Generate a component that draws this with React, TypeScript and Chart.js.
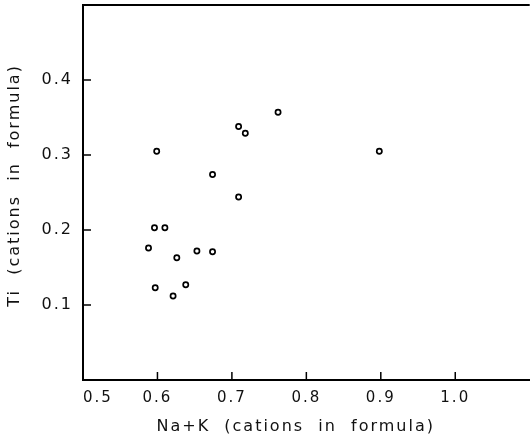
import React, { useEffect, useRef } from 'react';
import { Chart, registerables } from 'chart.js';

Chart.register(...registerables);

// Na+K (cations in formula)
const naK = [0.599, 0.762, 0.709, 0.718, 0.898, 0.674, 0.709, 0.596, 0.610, 0.588, 0.653, 0.674, 0.626, 0.597, 0.638, 0.621];
// Ti (cations in formula)
const ti = [0.305, 0.357, 0.338, 0.329, 0.305, 0.274, 0.244, 0.203, 0.203, 0.176, 0.172, 0.171, 0.163, 0.123, 0.127, 0.112];

const xTickLabels = ['0.5', '0.6', '0.7', '0.8', '0.9', '1.0'];
const yTickLabels = ['0.1', '0.2', '0.3', '0.4'];
const xTitle = 'Na+K  (cations  in  formula)';
const yTitle = 'Ti  (cations  in  formula)';

const FONT = 'DejaVu Sans';

const framePlugin = {
  id: 'frame',
  beforeDraw(chart: any) {
    (chart.ctx as any).letterSpacing = '2px';
  },
  afterDraw(chart: any) {
    const { ctx, chartArea, scales } = chart;
    ctx.save();
    ctx.strokeStyle = '#000';
    ctx.lineWidth = 2;
    ctx.beginPath();
    ctx.moveTo(chartArea.left - 1, chartArea.top);
    ctx.lineTo(chartArea.right, chartArea.top);
    ctx.stroke();
    ctx.lineWidth = 1.5;
    ctx.beginPath();
    xTickLabels.forEach((l) => {
      const x = scales.x.getPixelForValue(parseFloat(l));
      ctx.moveTo(x, chartArea.bottom);
      ctx.lineTo(x, chartArea.bottom - 8);
    });
    yTickLabels.forEach((l) => {
      const y = scales.y.getPixelForValue(parseFloat(l));
      ctx.moveTo(chartArea.left, y);
      ctx.lineTo(chartArea.left + 8, y);
    });
    ctx.stroke();
    ctx.restore();
  },
};

export default function App() {
  const ref = useRef<HTMLCanvasElement>(null);

  useEffect(() => {
    if (!ref.current) return;
    const chart = new Chart(ref.current, {
      type: 'scatter',
      data: {
        datasets: [
          {
            data: naK.map((x, i) => ({ x, y: ti[i] })),
            pointRadius: 2.6,
            pointBorderWidth: 1.7,
            borderColor: '#000',
            backgroundColor: '#fff',
            pointHoverRadius: 2.6,
          },
        ],
      },
      options: {
        responsive: true,
        maintainAspectRatio: false,
        animation: false,
        layout: { padding: { top: 5, left: 0, right: 0, bottom: 0 } },
        plugins: {
          legend: { display: false },
          tooltip: { enabled: false },
        },
        scales: {
          x: {
            type: 'linear',
            position: 'bottom',
            min: 0.5,
            max: 1.1,
            afterFit: (s: any) => {
              s.height = 60;
              s.paddingLeft = 0;
              s.paddingRight = 0;
            },
            grid: { display: false, drawTicks: false },
            border: { display: true, color: '#000', width: 2 },
            ticks: {
              stepSize: 0.1,
              autoSkip: false,
              maxRotation: 0,
              align: 'inner',
              padding: 9,
              color: '#111',
              font: { family: FONT, size: 15 },
              callback: (v: any) => {
                const s = Number(v).toFixed(1);
                return xTickLabels.includes(s) ? s : '';
              },
            },
            title: {
              display: true,
              text: xTitle + '   ',
              color: '#111',
              font: { family: FONT, size: 16 },
              padding: { top: 0, bottom: 4 },
            },
          },
          y: {
            type: 'linear',
            position: 'left',
            min: 0,
            max: 0.5,
            afterFit: (s: any) => {
              s.width = 83;
              s.paddingTop = 0;
              s.paddingBottom = 0;
            },
            grid: { display: false, drawTicks: false },
            border: { display: true, color: '#000', width: 2 },
            ticks: {
              stepSize: 0.1,
              autoSkip: false,
              padding: 10,
              color: '#111',
              font: { family: FONT, size: 16 },
              callback: (v: any) => {
                const s = Number(v).toFixed(1);
                return yTickLabels.includes(s) ? s : '';
              },
            },
            title: {
              display: true,
              text: '  ' + yTitle,
              color: '#111',
              font: { family: FONT, size: 16 },
              padding: { top: 5, bottom: 0 },
            },
          },
        },
      },
      plugins: [framePlugin],
    } as any);
    return () => chart.destroy();
  }, []);

  return (
    <div
      style={{
        position: 'absolute',
        left: 0,
        top: 0,
        width: 530,
        height: 440,
        overflow: 'hidden',
        background: '#fff',
      }}
    >
      <div style={{ position: 'relative', width: 534, height: 440 }}>
        <canvas ref={ref} />
      </div>
    </div>
  );
}
